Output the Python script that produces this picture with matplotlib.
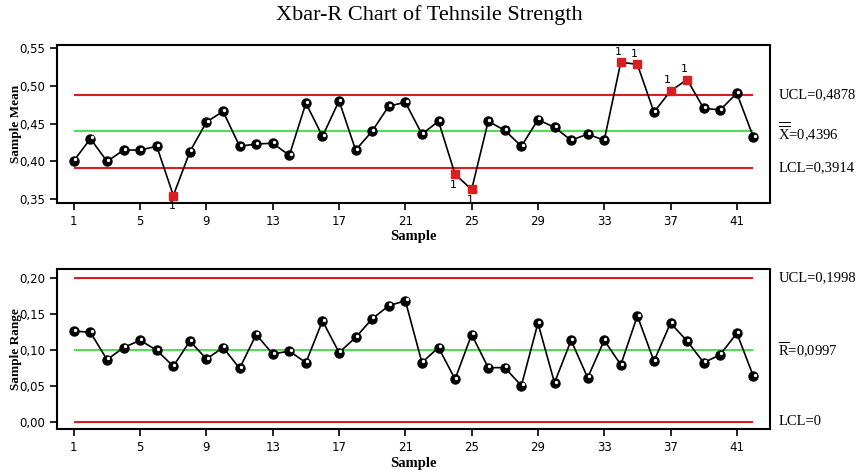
import numpy as np
import matplotlib
matplotlib.use("Agg")
from matplotlib import pyplot as plt
from matplotlib.ticker import FuncFormatter

# veriler
orneklem = np.arange(1, 43)
ortalamalar = [0.401, 0.430, 0.400, 0.415, 0.415, 0.420, 0.355, 0.413, 0.452, 0.466,
               0.420, 0.423, 0.424, 0.408, 0.477, 0.433, 0.480, 0.415, 0.440, 0.473,
               0.478, 0.436, 0.453, 0.383, 0.363, 0.453, 0.441, 0.420, 0.455, 0.445,
               0.428, 0.436, 0.428, 0.531, 0.528, 0.465, 0.493, 0.508, 0.470, 0.468,
               0.490, 0.432]
araliklar = [0.126, 0.124, 0.086, 0.103, 0.113, 0.099, 0.077, 0.112, 0.087, 0.103,
             0.074, 0.121, 0.094, 0.098, 0.082, 0.140, 0.096, 0.117, 0.143, 0.161,
             0.168, 0.082, 0.103, 0.059, 0.121, 0.075, 0.075, 0.050, 0.137, 0.054,
             0.113, 0.061, 0.113, 0.079, 0.147, 0.084, 0.137, 0.112, 0.082, 0.093,
             0.123, 0.063]
xbar_limitler = [0.4878, 0.4396, 0.3914]  # UCL, orta, LCL
r_limitler = [0.1998, 0.0997, 0.0]
disari_ust = [34, 35, 37, 38]
disari_alt = [7, 24, 25]
x_ticks = [1, 5, 9, 13, 17, 21, 25, 29, 33, 37, 41]

plt.rcParams['mathtext.fontset'] = 'custom'
plt.rcParams['mathtext.rm'] = 'Liberation Serif'

KIRMIZI = '#d81e1e'
YESIL = '#3ddc3d'
serif = 'Liberation Serif'
virgul = FuncFormatter(lambda v, p: ('%.2f' % v).replace('.', ','))

fig = plt.figure(figsize=(8.58, 4.70), dpi=100)
ax1 = fig.add_axes([0.0668, 0.5674, 0.8306, 0.3368])
ax2 = fig.add_axes([0.0668, 0.0866, 0.8306, 0.3410])


def ciz(ax, y, limitler, etiketler, ylim, yticks, ylabel, disari=()):
    y = np.array(y)
    ax.hlines(limitler[0], 1, 42, color=KIRMIZI, lw=1.5, zorder=1)
    ax.hlines(limitler[2], 1, 42, color=KIRMIZI, lw=1.5, zorder=1)
    ax.hlines(limitler[1], 1, 42, color=YESIL, lw=1.3, zorder=1)
    ax.plot(orneklem, y, color='black', lw=1.2, zorder=2)
    icerde = ~np.isin(orneklem, disari)
    ax.plot(orneklem[icerde], y[icerde], 'o', color='black', ms=6.5, zorder=3)
    ax.plot(orneklem[icerde] + 0.07, y[icerde] + (ylim[1] - ylim[0]) * 0.008, 'o',
            color='white', ms=1.4, zorder=4)
    ax.set_xlim(0, 43)
    ax.set_ylim(*ylim)
    ax.set_xticks(x_ticks)
    ax.set_yticks(yticks)
    ax.yaxis.set_major_formatter(virgul)
    ax.tick_params(direction='out', length=5, width=1.2, labelsize=8.5)
    for s in ax.spines.values():
        s.set_linewidth(1.5)
    ax.set_xlabel('Sample', family=serif, fontweight='bold', fontsize=10.5)
    ax.xaxis.set_label_coords(0.5, -0.17)
    ax.set_ylabel(ylabel, family=serif, fontweight='bold', fontsize=9.5)
    ax.yaxis.set_label_coords(-0.05, 0.5)
    for lim, et in zip(limitler, etiketler):
        ax.text(43.5, lim, et, family=serif, fontsize=10.5, va='center', ha='left')


ciz(ax1, ortalamalar, xbar_limitler,
    ['UCL=0,4878', r'$\overline{\overline{\mathrm{X}}}$=0,4396', 'LCL=0,3914'],
    (0.3447, 0.5536), [0.35, 0.40, 0.45, 0.50, 0.55], 'Sample Mean',
    disari_ust + disari_alt)
ciz(ax2, araliklar, r_limitler,
    ['UCL=0,1998', r'$\overline{\mathrm{R}}$=0,0997', 'LCL=0'],
    (-0.0106, 0.212), [0.0, 0.05, 0.10, 0.15, 0.20], 'Sample Range')

# kontrol disi noktalar
for i in disari_ust + disari_alt:
    ax1.plot(i, ortalamalar[i - 1], 's', color=KIRMIZI, ms=6, zorder=5)
for i in disari_ust:
    ax1.annotate('1', (i, ortalamalar[i - 1]), xytext=(-2, 4), textcoords='offset points',
                 fontsize=8, ha='center', va='bottom')
for i in disari_alt:
    ax1.annotate('1', (i, ortalamalar[i - 1]), xytext=(-1, -4), textcoords='offset points',
                 fontsize=8, ha='center', va='top')

fig.text(0.5, 0.968, 'Xbar-R Chart of Tehnsile Strength', family=serif, fontsize=16,
         ha='center', va='center')

fig.savefig('out.png', dpi=100)
